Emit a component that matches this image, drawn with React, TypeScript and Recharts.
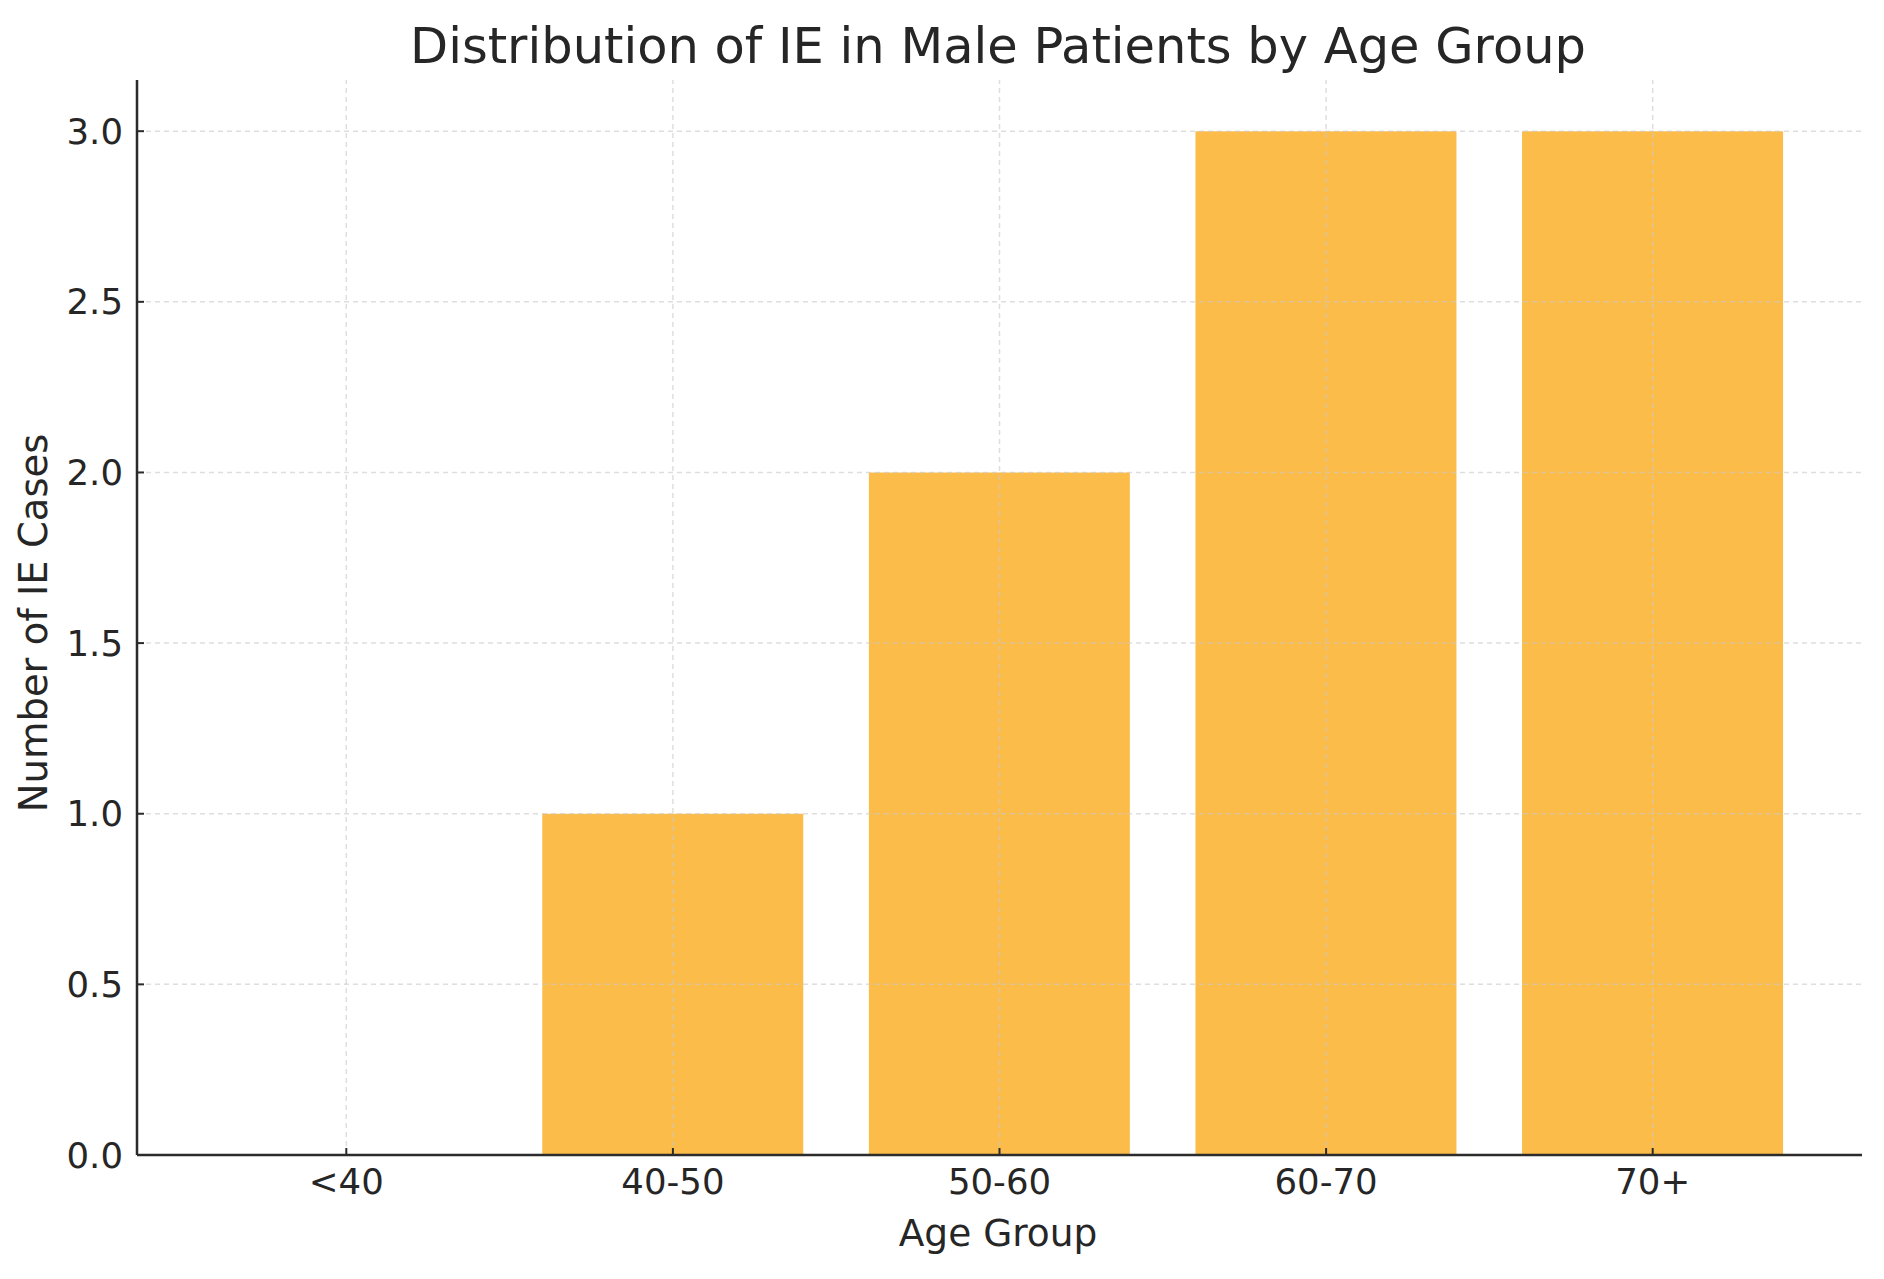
import { BarChart, Bar, XAxis, YAxis, ReferenceLine } from "recharts";

const ageGroups = ["<40", "40-50", "50-60", "60-70", "70+"];
const caseCounts = [0, 1, 2, 3, 3];
const yTicks = [0, 0.5, 1, 1.5, 2, 2.5, 3];

const chartData = ageGroups.map((group, i) => ({
    group,
    cases: caseCounts[i],
}));

const font = "'DejaVu Sans', sans-serif";
const textColor = "#262626";

// dashed grid, drawn over the bars like the original
const gridStyle = {
    stroke: "#c8c8c8",
    strokeOpacity: 0.6,
    strokeDasharray: "5 4",
    strokeWidth: 1.5,
};

export default function App() {
    return (
        <div
            style={{
                position: "absolute",
                left: 0,
                top: 0,
                width: 1884,
                height: 1279,
                background: "#fff",
                fontFamily: font,
                color: textColor,
            }}
        >
            <div
                style={{
                    position: "absolute",
                    left: 998,
                    top: 46,
                    transform: "translate(-50%, -50%)",
                    fontSize: 49.5,
                    whiteSpace: "nowrap",
                }}
            >
                Distribution of IE in Male Patients by Age Group
            </div>

            <BarChart
                width={1884}
                height={1279}
                data={chartData}
                margin={{ top: 80, right: 22, bottom: 64, left: 0 }}
                barCategoryGap="10%"
            >
                <XAxis
                    dataKey="group"
                    height={60}
                    padding={{ left: 46, right: 46 }}
                    axisLine={{ stroke: "#2b2b2b", strokeWidth: 2.5 }}
                    tickLine={{ stroke: "#2b2b2b", strokeWidth: 2 }}
                    tickSize={-7}
                    tickMargin={21}
                    tick={{ fill: textColor, fontSize: 35.5, fontFamily: font }}
                    interval={0}
                />
                <YAxis
                    width={137}
                    domain={[0, 3.15]}
                    ticks={yTicks}
                    tickFormatter={(v: number) => v.toFixed(1)}
                    axisLine={{ stroke: "#2b2b2b", strokeWidth: 2.5 }}
                    tickLine={{ stroke: "#2b2b2b", strokeWidth: 2 }}
                    tickSize={-7}
                    tickMargin={21}
                    tick={{ fill: textColor, fontSize: 35.5, fontFamily: font }}
                    allowDataOverflow
                />
                <Bar
                    dataKey="cases"
                    fill="#FCBC4A"
                    isAnimationActive={false}
                />
                {ageGroups.map((g) => (
                    <ReferenceLine key={g} x={g} {...gridStyle} />
                ))}
                {yTicks
                    .filter((t) => t > 0)
                    .map((t) => (
                        <ReferenceLine key={t} y={t} {...gridStyle} />
                    ))}
            </BarChart>

            <div
                style={{
                    position: "absolute",
                    left: 998,
                    top: 1233,
                    transform: "translate(-50%, -50%)",
                    fontSize: 37.5,
                    whiteSpace: "nowrap",
                }}
            >
                Age Group
            </div>
            <div
                style={{
                    position: "absolute",
                    left: 33,
                    top: 623,
                    transform: "translate(-50%, -50%) rotate(-90deg)",
                    fontSize: 38.5,
                    whiteSpace: "nowrap",
                }}
            >
                Number of IE Cases
            </div>
        </div>
    );
}
